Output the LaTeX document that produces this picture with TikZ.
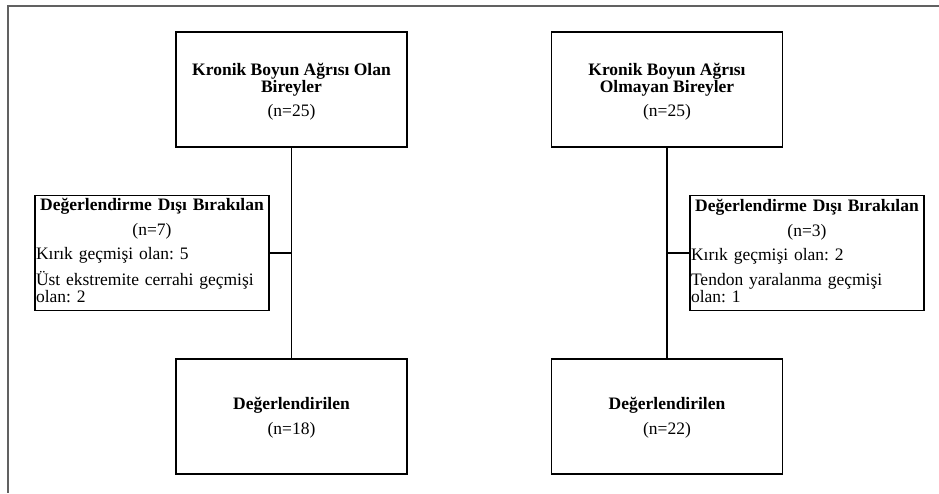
\documentclass[tikz,border=0pt]{standalone}
\usepackage{fontspec}
\setmainfont{Liberation Serif}
\frenchspacing
\setlength{\lineskiplimit}{-100pt}
\newcommand{\ctrline}[1]{\leavevmode\hbox to\hsize{\hfil#1\hfil}}
\newcommand{\tp}[1]{\rule{0pt}{#1}}
\newcommand{\bt}[1]{\rule[-#1]{0pt}{#1}}
\begin{document}
\begin{tikzpicture}[x=1pt,y=-1pt,
  box/.style={draw=black, line width=1.9pt, rectangle, minimum width=231pt, minimum height=115pt, inner sep=0pt, align=center, font=\fontsize{17.5}{16.2}\selectfont},
  exbox/.style={draw=black, line width=1.9pt, rectangle, text width=232pt, minimum height=115pt, inner xsep=0.8pt, inner ysep=0pt, align=left, font=\fontsize{17.5}{17}\selectfont},
  link/.style={draw=black, line width=1.9pt},
  frame/.style={draw=black!62, line width=1.3pt}]
\useasboundingbox (0,0) rectangle (939,493);
\draw[frame] (939,6) -- (8,6) -- (8,493);

\node[box] (top1) at (291.5,89.5) {\tp{18pt}\textbf{Kronik Boyun Ağrısı Olan}\\\textbf{Bireyler}\\[7.8pt](n=25)\bt{5pt}};
\node[box] (top2) at (667,89.5) {\tp{18pt}\textbf{Kronik Boyun Ağrısı}\\\textbf{Olmayan Bireyler}\\[7.8pt](n=25)\bt{5pt}};

\node[exbox] (ex1) at (152,253) {\ctrline{\tp{13pt}\textbf{Değerlendirme Dışı Bırakılan}}\\[8pt]
\ctrline{(n=7)}\\[6.4pt]
Kırık geçmişi olan: 5\\[8pt]
Üst ekstremite cerrahi geçmişi\\
olan: 2\bt{5.4pt}};
\node[exbox] (ex2) at (807,253) {\ctrline{\tp{13pt}\textbf{Değerlendirme Dışı Bırakılan}}\\[8pt]
\ctrline{(n=3)}\\[6.4pt]
Kırık geçmişi olan: 2\\[8pt]
Tendon yaralanma geçmişi\\
olan: 1\bt{5.4pt}};

\node[box] (bot1) at (291.5,416.5) {\tp{15pt}\textbf{Değerlendirilen}\\[8.8pt](n=18)\bt{5pt}};
\node[box] (bot2) at (667,416.5) {\tp{15pt}\textbf{Değerlendirilen}\\[8.8pt](n=22)\bt{5pt}};

\draw[link] (top1.south) -- (bot1.north);
\draw[link] (top2.south) -- (bot2.north);
\draw[link] (ex1.east) -- (top1.south |- ex1.east);
\draw[link] (ex2.west) -- (top2.south |- ex2.west);
\end{tikzpicture}
\end{document}
